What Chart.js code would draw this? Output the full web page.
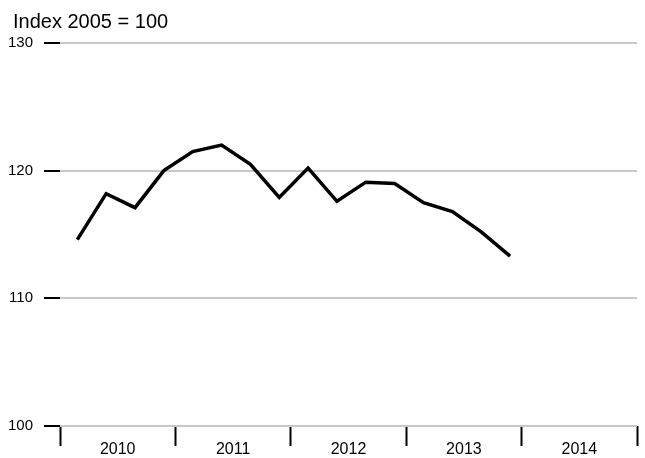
<!DOCTYPE html>
<html>
<head>
<meta charset="utf-8">
<script src="https://cdn.jsdelivr.net/npm/chart.js@4"></script>
<style>
  html, body { margin: 0; padding: 0; background: #fff; }
  #wrap { width: 645px; height: 458px; }
</style>
</head>
<body>
<div id="wrap"><canvas id="myChart"></canvas></div>
<script>
const years = [2010, 2011, 2012, 2013, 2014];
const values = [114.6, 118.2, 117.1, 120.0, 121.5, 122.0, 120.5, 117.9, 120.2, 117.6, 119.1, 119.0, 117.5, 116.8, 115.2, 113.3];
const yTicks = [100, 110, 120, 130];
const unitLabel = "Index 2005 = 100";

const fontFamily = "'Liberation Sans', Arial, sans-serif";
const pointOffset = 0.6; // where in its quarter each point sits

// quarterly points as decimal years
const points = values.map((v, i) => ({ x: years[0] + Math.floor(i / 4) + ((i % 4) + pointOffset) / 4, y: v }));

// unit label top left
const unitTitle = {
  id: "unitTitle",
  afterDraw(chart) {
    const ctx = chart.ctx;
    ctx.save();
    ctx.font = "20px " + fontFamily;
    ctx.fillStyle = "#000";
    ctx.textBaseline = "alphabetic";
    ctx.fillText(unitLabel, 13, 28);
    ctx.restore();
  },
};

const config = {
  type: "line",
  data: {
    datasets: [
      {
        data: points,
        borderColor: "#000",
        borderWidth: 3.5,
        pointRadius: 0,
        tension: 0,
        fill: false,
      },
    ],
  },
  options: {
    responsive: true,
    maintainAspectRatio: false,
    animation: false,
    layout: { padding: { top: 43, right: 8, left: 0, bottom: 0 } },
    plugins: {
      legend: { display: false },
      tooltip: { enabled: false },
    },
    scales: {
      x: {
        type: "linear",
        min: 2010,
        max: 2015,
        afterBuildTicks: (s) => {
          s.ticks = years.concat([2015]).map((v) => ({ value: v }));
        },
        afterFit: (s) => {
          s.height = 32;
        },
        border: { display: false },
        grid: {
          drawOnChartArea: false,
          tickLength: 20,
          tickColor: "#000",
          tickWidth: 2,
        },
        ticks: {
          callback: (v) => (years.includes(v) ? String(v) : ""),
          labelOffset: 57.7,
          padding: -6,
          maxRotation: 0,
          autoSkip: false,
          color: "#000",
          font: { family: fontFamily, size: 16 },
        },
      },
      y: {
        min: 100,
        max: 130,
        afterBuildTicks: (s) => {
          s.ticks = yTicks.map((v) => ({ value: v }));
        },
        afterFit: (s) => {
          s.width = 60;
        },
        border: { display: false },
        grid: {
          color: "#c8c8c8",
          lineWidth: 2,
          tickLength: 16,
          tickColor: "#000",
          tickWidth: 2,
        },
        ticks: {
          padding: 11,
          color: "#000",
          font: { family: fontFamily, size: 15 },
        },
      },
    },
  },
  plugins: [unitTitle],
};

var ctx = document.getElementById("myChart").getContext("2d");
var myChart = new Chart(ctx, config);
</script>
</body>
</html>
